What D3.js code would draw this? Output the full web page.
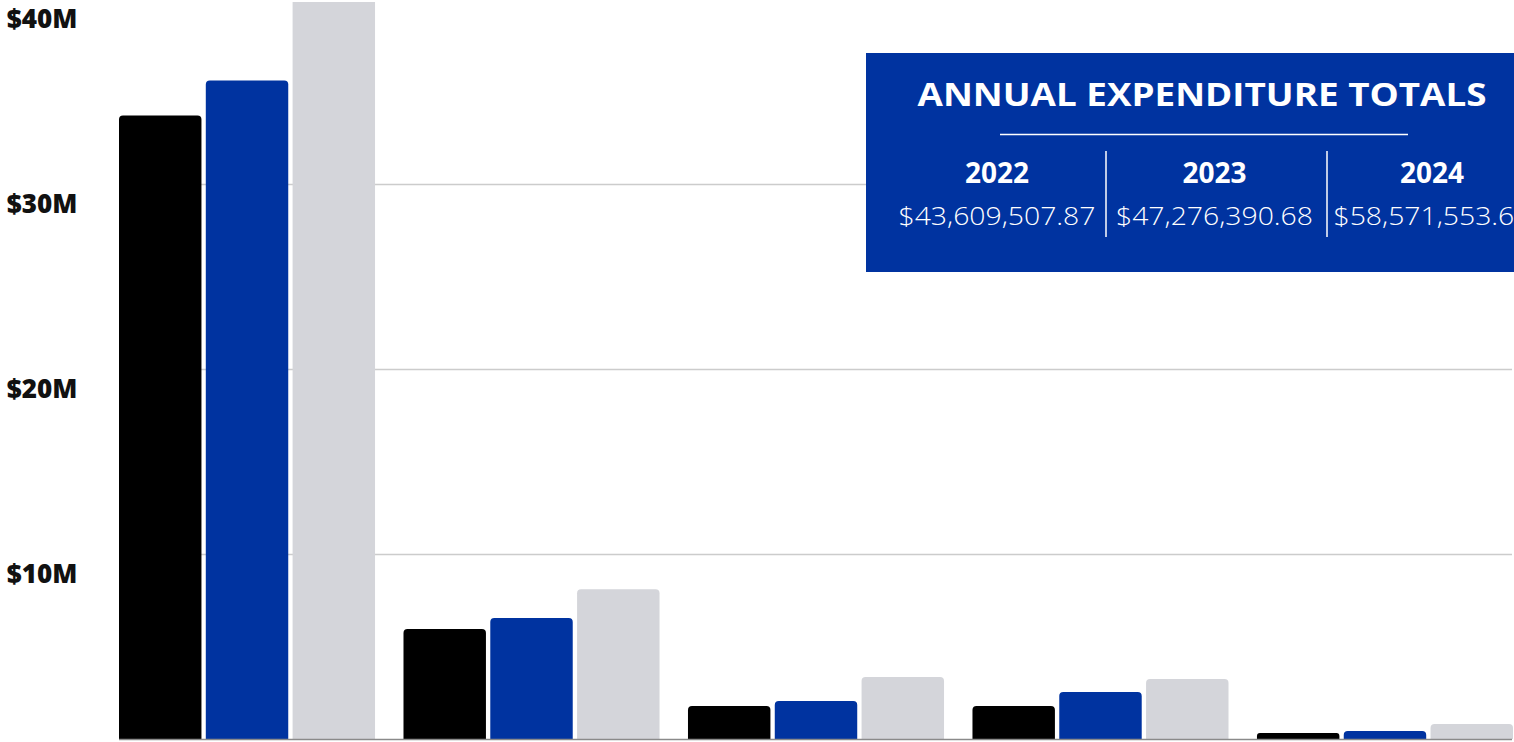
<!DOCTYPE html>
<html>
<head>
    <script src="https://d3js.org/d3.v7.min.js"></script>
    <style>
        body { margin: 0; background: #fff; }
        svg { display: block; }
        text { font-family: "Open Sans", "Noto Sans", sans-serif; }
    </style>
</head>
<body>
    <svg width="1514" height="742"></svg>
    <script>
        // spending categories (labels sit below the visible frame)
        const categories = ["Category 1", "Category 2", "Category 3", "Category 4", "Category 5"];
        const years = ["2022", "2023", "2024"];
        const values2022 = [33.7, 5.95, 1.78, 1.78, 0.32];   // $M
        const values2023 = [35.6, 6.54, 2.05, 2.54, 0.43];
        const values2024 = [43.0, 8.1, 3.35, 3.24, 0.81];
        const totals = ["$43,609,507.87", "$47,276,390.68", "$58,571,553.63"];
        const yTicks = [10, 20, 30, 40];
        const colors = ["#000000", "#0033a0", "#d4d5da"];

        const width = 1514, height = 742;
        const plotLeft = 119, plotRight = 1513, plotBottom = 739, plotTop = -1;

        const svg = d3.select("svg");
        const series = [values2022, values2023, values2024];

        const x0 = d3.scaleBand()
            .domain(categories)
            .range([plotLeft, plotRight])
            .paddingInner(0.1)
            .paddingOuter(0);

        const x1 = d3.scaleBand()
            .domain(years)
            .range([0, x0.bandwidth()])
            .paddingInner(0.05);

        const y = d3.scaleLinear()
            .domain([0, 40])
            .range([plotBottom, plotTop]);

        svg.append("defs").append("clipPath").attr("id", "plot")
            .append("rect").attr("x", 0).attr("y", 2).attr("width", width).attr("height", plotBottom - 2);

        // gridlines
        svg.append("g")
            .selectAll("line")
            .data(yTicks.slice(0, 3))
            .enter()
            .append("line")
            .attr("x1", plotLeft)
            .attr("x2", 1512)
            .attr("y1", d => y(d) + 0.5)
            .attr("y2", d => y(d) + 0.5)
            .attr("stroke", "#cccccc")
            .attr("stroke-width", 1.3);

        // y labels
        svg.append("g")
            .selectAll("text")
            .data(yTicks)
            .enter()
            .append("text")
            .attr("x", 42)
            .attr("y", d => y(d) + 19)
            .attr("text-anchor", "middle")
            .attr("dominant-baseline", "central")
            .attr("font-size", 26)
            .attr("font-weight", 800)
            .attr("fill", "#111")
            .text(d => "$" + d + "M");

        // bar with rounded top corners
        function barPath(x, w, yTop, yBot, r) {
            r = Math.min(r, (yBot - yTop) / 2, w / 2);
            return "M" + x + "," + yBot +
                "V" + (yTop + r) +
                "Q" + x + "," + yTop + " " + (x + r) + "," + yTop +
                "H" + (x + w - r) +
                "Q" + (x + w) + "," + yTop + " " + (x + w) + "," + (yTop + r) +
                "V" + yBot + "Z";
        }

        const bars = svg.append("g").attr("clip-path", "url(#plot)");
        categories.forEach((c, i) => {
            years.forEach((yr, j) => {
                bars.append("path")
                    .attr("d", barPath(x0(c) + x1(yr), x1.bandwidth(), y(series[j][i]), plotBottom, 4))
                    .attr("fill", colors[j]);
            });
        });

        // baseline
        svg.append("line")
            .attr("x1", plotLeft)
            .attr("x2", 1512)
            .attr("y1", plotBottom + 0.5)
            .attr("y2", plotBottom + 0.5)
            .attr("stroke", "#8a8a8a")
            .attr("stroke-width", 1.5);

        // totals box
        const box = svg.append("g");
        box.append("rect")
            .attr("x", 866).attr("y", 53)
            .attr("width", 700).attr("height", 219)
            .attr("fill", "#0033a0");

        box.append("text")
            .attr("x", 1202).attr("y", 93)
            .attr("text-anchor", "middle")
            .attr("dominant-baseline", "central")
            .attr("font-size", 32)
            .attr("font-weight", 700)
            .attr("fill", "#fff")
            .attr("textLength", 569)
            .attr("lengthAdjust", "spacingAndGlyphs")
            .text("ANNUAL EXPENDITURE TOTALS");

        box.append("line")
            .attr("x1", 1000).attr("x2", 1408)
            .attr("y1", 134.5).attr("y2", 134.5)
            .attr("stroke", "#fff").attr("stroke-width", 1.5);

        const colX = d3.scalePoint().domain(years).range([997, 1432]);

        box.selectAll(".yr")
            .data(years)
            .enter()
            .append("text")
            .attr("x", d => colX(d))
            .attr("y", 172)
            .attr("text-anchor", "middle")
            .attr("dominant-baseline", "central")
            .attr("font-size", 28)
            .attr("font-weight", 700)
            .attr("fill", "#fff")
            .text(d => d);

        box.selectAll(".tot")
            .data(totals)
            .enter()
            .append("text")
            .attr("x", (d, i) => colX(years[i]))
            .attr("y", 215)
            .attr("text-anchor", "middle")
            .attr("dominant-baseline", "central")
            .attr("font-size", 25)
            .attr("font-weight", 300)
            .attr("fill", "#fff")
            .attr("textLength", 197)
            .attr("lengthAdjust", "spacingAndGlyphs")
            .text(d => d);

        box.selectAll(".sep")
            .data([1106, 1327])
            .enter()
            .append("line")
            .attr("x1", d => d).attr("x2", d => d)
            .attr("y1", 151).attr("y2", 237)
            .attr("stroke", "#fff").attr("stroke-width", 1.5);
    </script>
</body>
</html>
